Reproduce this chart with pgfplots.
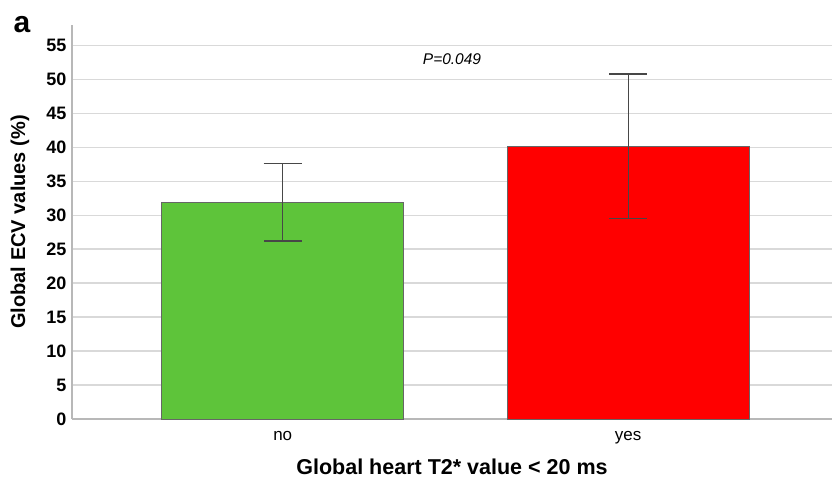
\documentclass[border=0pt]{standalone}
\usepackage{fontspec}
\setmainfont{Liberation Sans}
\usepackage{pgfplots}
\pgfplotsset{compat=1.18}
\usetikzlibrary{calc}
\definecolor{bargreen}{HTML}{5EC43A}
\definecolor{barred}{HTML}{FF0000}
\definecolor{gridc}{HTML}{D9D9D9}
\definecolor{axc}{HTML}{B8B8B8}
\begin{document}
\begin{tikzpicture}
\begin{axis}[name=ax, scale only axis, width=760pt, height=394pt,
 xmin=-0.61, xmax=1.59, ymin=0, ymax=58,
 ytick={0,5,...,55}, xtick={0,1}, xticklabels={no,yes},
 axis x line*=bottom, axis y line*=left,
 axis line style={axc, line width=1.4pt, -},
 ymajorgrids, grid style={gridc, line width=1.4pt},
 major tick length=0pt,
 xticklabel style={font=\fontsize{17}{19}\selectfont, yshift=-9pt},
 yticklabel style={font=\fontsize{18}{20}\selectfont\bfseries, xshift=-2pt},
 /pgf/number format/assume math mode=true,
 ylabel={Global ECV values (\%)}, xlabel={Global heart T2* value < 20 ms},
 every axis y label/.style={at={(axis description cs:-0.0684,0.5)}, rotate=90, anchor=center, font=\fontsize{20}{22}\selectfont\bfseries},
 every axis x label/.style={at={(axis description cs:0.5,-0.122)}, anchor=center, font=\fontsize{21.5}{23}\selectfont\bfseries},
 clip=false,
 ybar, bar width=0.7, bar shift=0pt,
 ]
\addplot[ybar, fill=bargreen, draw=black!60, line width=0.7pt,
  error bars/.cd, y dir=both, y explicit,
  error bar style={black!72, line width=1.2pt},
  error mark options={rotate=90, mark size=19pt, line width=1.2pt, black!72}]
  coordinates {(0,31.9) += (0,5.7) -= (0,5.7)};
\addplot[ybar, fill=barred, draw=black!60, line width=0.7pt,
  error bars/.cd, y dir=both, y explicit,
  error bar style={black!72, line width=1.2pt},
  error mark options={rotate=90, mark size=19pt, line width=1.2pt, black!72}]
  coordinates {(1,40.1) += (0,10.7) -= (0,10.6)};
\node[font=\fontsize{15.5}{17}\selectfont\itshape] at (axis cs:0.49,52.9) {P=0.049};
\end{axis}
\node[font=\fontsize{30}{32}\selectfont\bfseries] at ($(ax.north west)+(-50pt,0pt)$) {a};
\pgfresetboundingbox
\path ($(ax.south west)+(-72pt,-65pt)$) rectangle ($(ax.north east)+(0pt,25pt)$);
\end{tikzpicture}
\end{document}
